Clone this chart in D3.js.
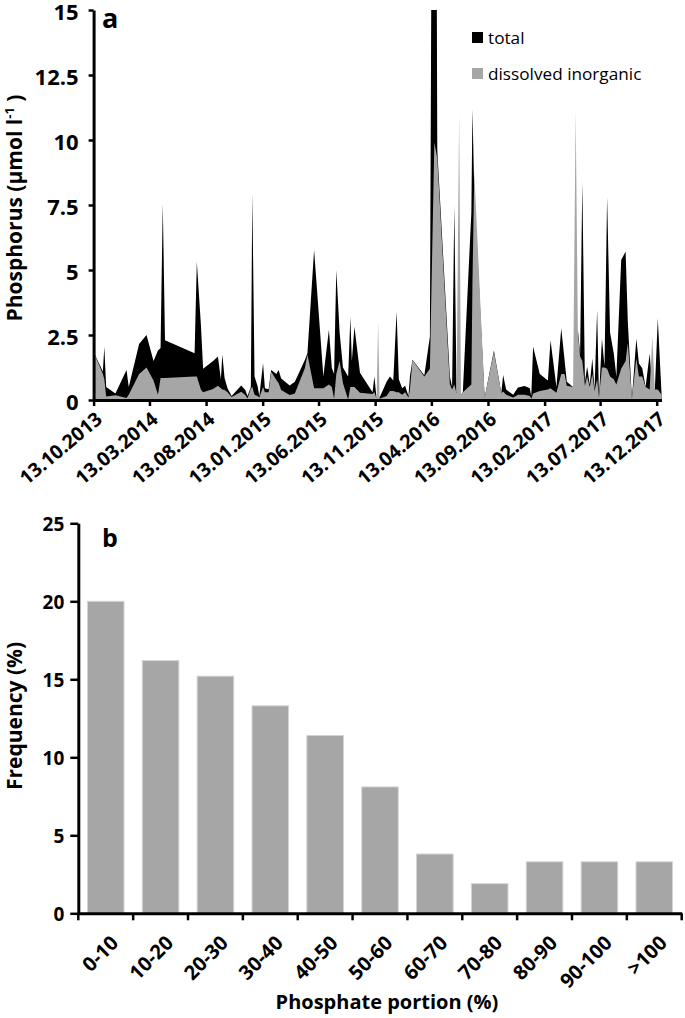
<!DOCTYPE html>
<html lang="en">
<head>
<meta charset="UTF-8">
<title>Phosphorus</title>
<script src="https://d3js.org/d3.v7.min.js"></script>
<style>
  body { margin: 0; background: #fff; }
  svg { display: block; font-family: "Open Sans", sans-serif; }
  .axis path, .axis line { stroke: #000; }
  .axis text { font-weight: bold; fill: #000; }
</style>
</head>
<body>
<script>
// panel a: sampling dates with total and dissolved inorganic phosphorus (µmol/l)
const sampleDates = [
  "2013-10-13","2013-11-07","2013-11-11","2013-11-16","2013-12-11","2014-01-10","2014-01-16","2014-02-13",
  "2014-03-05","2014-03-24","2014-04-05","2014-04-12","2014-04-18","2014-04-24","2014-07-13","2014-07-19",
  "2014-07-30","2014-08-05","2014-09-01","2014-09-14","2014-09-22","2014-09-26","2014-10-02","2014-10-10",
  "2014-10-21","2014-11-16","2014-11-27","2014-12-03","2014-12-12","2014-12-16","2014-12-22","2014-12-30",
  "2015-01-04","2015-01-14","2015-01-19","2015-01-29","2015-02-05","2015-02-19","2015-02-25","2015-03-04",
  "2015-03-27","2015-04-10","2015-05-07","2015-05-14","2015-06-01","2015-06-26","2015-07-11","2015-07-19",
  "2015-07-25","2015-07-31","2015-08-09","2015-08-18","2015-09-01","2015-09-07","2015-09-11","2015-09-18",
  "2015-10-03","2015-11-06","2015-11-11","2015-11-17","2015-11-21","2015-11-25","2015-12-14","2015-12-23",
  "2016-01-01","2016-01-10","2016-01-16","2016-01-25","2016-02-02","2016-02-11","2016-02-15","2016-02-22",
  "2016-03-25","2016-04-09","2016-04-21","2016-04-29","2016-06-02","2016-06-08","2016-06-14","2016-06-20",
  "2016-06-27","2016-07-02","2016-07-07","2016-07-30","2016-08-02","2016-08-07","2016-09-04","2016-09-29",
  "2016-10-19","2016-10-24","2016-11-01","2016-11-20","2016-12-03","2016-12-21","2017-01-04","2017-01-08",
  "2017-01-13","2017-01-31","2017-02-22","2017-03-01","2017-03-17","2017-03-30","2017-04-08","2017-04-14",
  "2017-05-01","2017-05-08","2017-05-14","2017-05-20","2017-05-26","2017-06-02","2017-06-08","2017-06-15",
  "2017-06-22","2017-06-28","2017-07-05","2017-07-10","2017-07-18","2017-07-25","2017-08-01","2017-08-09",
  "2017-08-19","2017-08-26","2017-09-08","2017-09-20","2017-09-26","2017-10-07","2017-10-19","2017-10-26",
  "2017-11-04","2017-11-13","2017-11-24","2017-12-01","2017-12-08","2017-12-16","2017-12-26"
];
const totalP = [
  1.85,1.1,2.05,0.5,0.25,1.15,0.5,2.15,
  2.5,1.5,1.9,2.0,7.56,2.3,1.8,5.32,
  2.9,1.2,1.5,1.67,0.8,1.75,0.85,0.45,
  0.15,0.56,0.38,0.15,0.5,7.95,0.9,0.55,
  0.15,1.41,0.45,0.41,1.15,1.0,1.15,0.83,
  0.56,0.7,1.54,1.8,5.77,0.9,2.7,1.23,
  1.0,5.0,2.6,1.25,0.9,3.2,1.5,2.82,
  1.05,0.3,0.9,0.05,0.1,0.1,0.7,0.9,
  0.75,3.4,0.8,0.45,0.55,0.15,0.9,1.55,
  0.95,2.44,45,9.6,0.9,0.5,7.5,0.3,
  0.3,0.2,0.3,7.2,11.2,8.0,0.1,1.9,
  0.27,0.96,0.4,0.2,0.48,0.54,0.45,0.15,
  2.05,1.0,0.75,2.3,0.5,2.76,1.54,0.7,
  0.5,0.5,2.7,1.8,8.4,0.7,1.28,0.6,
  1.6,0.4,3.46,0.1,2.37,1.3,7.82,2.6,
  1.79,0.9,5.38,5.71,3.0,0.06,2.37,1.4,
  1.22,0.5,1.79,0.5,0.4,3.13,0.27
];
const dissolvedP = [
  1.85,1.0,0.8,0.13,0.18,0.08,0.2,1.0,
  1.25,0.75,0.2,0.85,0.85,0.85,0.9,0.9,
  0.4,0.3,0.42,0.55,0.45,0.4,0.38,0.3,
  0.12,0.32,0.19,0.06,0.45,0.5,0.2,0.15,
  0.1,0.5,0.3,0.3,1.09,0.77,0.65,0.38,
  0.19,0.25,1.22,1.75,0.45,0.45,0.6,0.5,
  0.05,1.0,1.5,0.64,0.02,0.5,0.5,0.5,
  0.28,0.23,0.3,0.05,3.0,0.05,0.15,0.35,
  0.35,0.3,0.3,0.2,0.3,0.1,0.4,1.54,
  0.9,1.2,9.9,9.3,0.6,0.4,0.6,0.25,
  11.0,0.2,0.3,0.6,4.5,8.8,0.1,1.86,
  0.27,0.33,0.2,0.1,0.2,0.2,0.15,0.05,
  0.25,0.35,0.4,0.45,0.28,1.0,1.0,0.55,
  0.5,11.1,2.6,1.67,1.5,0.55,0.9,0.5,
  1.0,0.35,0.8,0.1,1.25,1.25,1.2,0.9,
  0.8,0.6,1.2,1.5,2.2,0.06,1.6,0.9,
  0.9,0.5,0.4,2.44,0.4,0.4,0.2
];
const dateTicks = ["13.10.2013","13.03.2014","13.08.2014","13.01.2015","13.06.2015","13.11.2015",
  "13.04.2016","13.09.2016","13.02.2017","13.07.2017","13.12.2017"];
const phosphorusTicks = [0, 2.5, 5, 7.5, 10, 12.5, 15];
const seriesNames = ["total", "dissolved inorganic"];

// panel b: frequency of phosphate portion classes
const portionBins = ["0-10","10-20","20-30","30-40","40-50","50-60","60-70","70-80","80-90","90-100",">100"];
const frequency = [20.0, 16.2, 15.2, 13.3, 11.4, 8.1, 3.8, 1.9, 3.3, 3.3, 3.3];
const frequencyTicks = [0, 5, 10, 15, 20, 25];

const parseDate = d3.timeParse("%Y-%m-%d");
const parseTick = d3.timeParse("%d.%m.%Y");
const samples = sampleDates.map((d, i) => ({ date: parseDate(d), total: totalP[i], dip: dissolvedP[i] }));

const svg = d3.select("body").append("svg")
    .attr("width", 685)
    .attr("height", 1018);

// ---------- panel a ----------
const x = d3.scaleTime().domain(d3.extent(samples, d => d.date)).range([93.6, 661.5]);
const y = d3.scaleLinear().domain([0, 15]).range([400, 10]);

svg.append("clipPath").attr("id", "clipA")
  .append("rect")
    .attr("x", 93.6).attr("y", 10)
    .attr("width", 572).attr("height", 390);

const plotA = svg.append("g").attr("clip-path", "url(#clipA)");

plotA.append("path")
    .datum(samples)
    .attr("fill", "#000")
    .attr("d", d3.area().x(d => x(d.date)).y0(y(0)).y1(d => y(d.total)));

plotA.append("path")
    .datum(samples)
    .attr("fill", "#a6a6a6")
    .attr("d", d3.area().x(d => x(d.date)).y0(y(0)).y1(d => y(d.dip)));

const yAxisA = svg.append("g")
    .attr("class", "axis")
    .attr("transform", "translate(93.6,0)")
    .call(d3.axisLeft(y).tickValues(phosphorusTicks).tickSize(5).tickSizeOuter(0).tickPadding(10).tickFormat(d => d));
yAxisA.attr("font-family", null).attr("font-size", 22);
yAxisA.select(".domain").attr("stroke-width", 3);
yAxisA.selectAll(".tick line").attr("stroke-width", 2.5);
yAxisA.selectAll(".tick text").attr("dy", "0.42em");

const xAxisA = svg.append("g")
    .attr("class", "axis")
    .attr("transform", "translate(0,400)")
    .call(d3.axisBottom(x).tickValues(dateTicks.map(parseTick)).tickSize(6).tickSizeOuter(0)
      .tickFormat(d3.timeFormat("%d.%m.%Y")));
xAxisA.attr("font-family", null).attr("font-size", 19.5);
xAxisA.select(".domain").attr("stroke-width", 3);
xAxisA.selectAll(".tick line").attr("stroke-width", 2.5);
xAxisA.selectAll(".tick text")
    .attr("x", 0).attr("y", 0).attr("dy", "0.35em")
    .attr("text-anchor", "end")
    .attr("transform", "translate(5,16) rotate(-40)");

svg.append("text")
    .attr("x", 102).attr("y", 28)
    .attr("font-size", 27).attr("font-weight", "bold")
    .text("a");

const yTitleA = svg.append("text")
    .attr("transform", "translate(22,208) rotate(-90)")
    .attr("text-anchor", "middle")
    .attr("font-size", 21).attr("font-weight", "bold");
yTitleA.append("tspan").text("Phosphorus (µmol l");
yTitleA.append("tspan").attr("dy", -8).attr("font-size", 13).text("-1");
yTitleA.append("tspan").attr("dy", 8).text(" )");

const legend = svg.append("g").selectAll("g")
    .data(seriesNames)
    .join("g")
    .attr("transform", (d, i) => `translate(472,${32 + i * 36})`);
legend.append("rect")
    .attr("width", 11).attr("height", 11)
    .attr("fill", (d, i) => i === 0 ? "#000" : "#a6a6a6");
legend.append("text")
    .attr("x", 16).attr("y", 11.5)
    .attr("font-size", 17.2)
    .text(d => d);

// ---------- panel b ----------
const xb = d3.scaleBand().domain(portionBins).range([78.3, 681.7]).paddingInner(1 / 3).paddingOuter(1 / 6);
const yb = d3.scaleLinear().domain([0, 25]).range([913.3, 523.3]);

svg.append("g").selectAll("rect")
    .data(frequency)
    .join("rect")
    .attr("x", (d, i) => xb(portionBins[i]))
    .attr("y", d => yb(d))
    .attr("width", xb.bandwidth())
    .attr("height", d => yb(0) - yb(d))
    .attr("fill", "#a6a6a6")
    .attr("stroke", "#d4d4d4")
    .attr("stroke-width", 1);

const yAxisB = svg.append("g")
    .attr("class", "axis")
    .attr("transform", "translate(78.3,0)")
    .call(d3.axisLeft(yb).tickValues(frequencyTicks).tickSize(8).tickSizeOuter(0).tickPadding(6));
yAxisB.attr("font-family", null).attr("font-size", 19);
yAxisB.select(".domain").attr("stroke-width", 3);
yAxisB.selectAll(".tick line").attr("stroke-width", 2.5);
yAxisB.selectAll(".tick text").attr("dy", "0.38em");

const xAxisB = svg.append("g")
    .attr("class", "axis")
    .attr("transform", "translate(0,913.3)")
    .call(d3.axisBottom(xb).tickSize(0).tickSizeOuter(0));
xAxisB.attr("font-family", null).attr("font-size", 20);
xAxisB.select(".domain").attr("stroke-width", 3);
xAxisB.selectAll(".tick text")
    .attr("x", 0).attr("y", 0).attr("dy", "0.35em")
    .attr("text-anchor", "end")
    .attr("transform", "translate(9,26) rotate(-45)");

// category boundary ticks
xAxisB.selectAll(".bound")
    .data(d3.range(portionBins.length + 1))
    .join("line")
    .attr("class", "bound")
    .attr("x1", i => xb.range()[0] + i * xb.step())
    .attr("x2", i => xb.range()[0] + i * xb.step())
    .attr("y1", 0).attr("y2", 7)
    .attr("stroke-width", 2.5);

svg.append("text")
    .attr("x", 102).attr("y", 547)
    .attr("font-size", 25).attr("font-weight", "bold")
    .text("b");

svg.append("text")
    .attr("transform", "translate(22,716) rotate(-90)")
    .attr("text-anchor", "middle")
    .attr("font-size", 21).attr("font-weight", "bold")
    .text("Frequency (%)");

svg.append("text")
    .attr("x", 387).attr("y", 1009)
    .attr("text-anchor", "middle")
    .attr("font-size", 20).attr("font-weight", "bold")
    .text("Phosphate portion (%)");
</script>
</body>
</html>
